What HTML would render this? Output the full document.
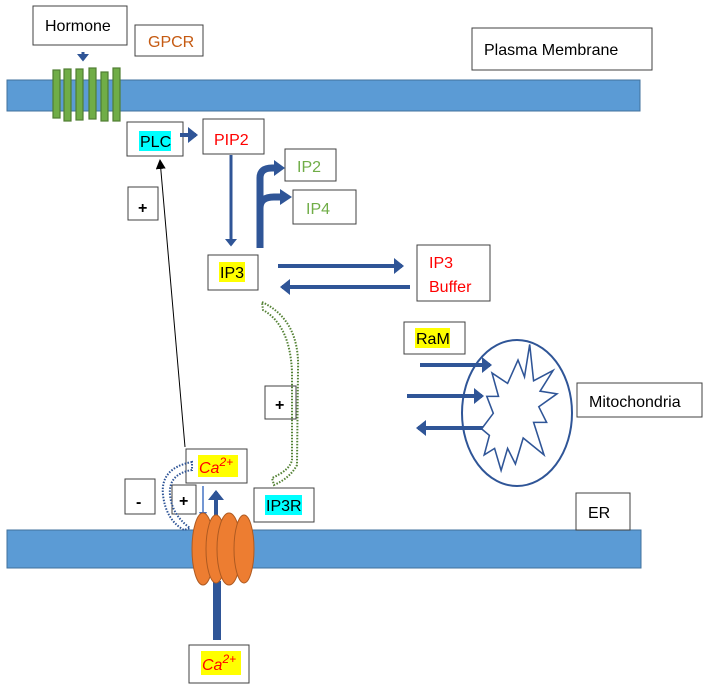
<!DOCTYPE html>
<html><head><meta charset="utf-8"><style>
html,body{margin:0;padding:0;background:#fff;}
svg{display:block;}
text{font-family:"Liberation Sans",sans-serif;font-size:16px;}
</style></head><body>
<svg width="708" height="690" viewBox="0 0 708 690" xmlns="http://www.w3.org/2000/svg">
<defs>
<marker id="ab" markerWidth="4" markerHeight="4" refX="2" refY="2" orient="auto" markerUnits="strokeWidth"><path d="M0,0 L2.5,2 L0,4 z" fill="#2f5597"/></marker>
<marker id="ak" markerWidth="10" markerHeight="10" refX="9" refY="5" orient="auto" markerUnits="userSpaceOnUse"><path d="M0,0 L10,5 L0,10 z" fill="#000"/></marker>
</defs>
<rect x="7" y="80" width="633" height="31" fill="#5b9bd5" stroke="#41719c" stroke-width="1"/>
<rect x="7" y="530" width="634" height="38" fill="#5b9bd5" stroke="#41719c" stroke-width="1"/>
<g fill="#70ad47" stroke="#507e32" stroke-width="1.2">
<rect x="53" y="70" width="7" height="48"/><rect x="64" y="69" width="7" height="52"/><rect x="76" y="69" width="7" height="51"/><rect x="89" y="68" width="7" height="51"/><rect x="101" y="72" width="7" height="49"/><rect x="113" y="68" width="7" height="53"/>
</g>
<line x1="83" y1="52" x2="83" y2="60" stroke="#2f5597" stroke-width="3" marker-end="url(#ab)"/>
<g fill="#fff" stroke="#404040" stroke-width="1">
<rect x="33" y="6" width="94" height="39"/>
<rect x="135" y="25" width="68" height="31"/>
<rect x="472" y="28" width="180" height="42"/>
<rect x="127" y="122" width="56" height="34"/>
<rect x="203" y="119" width="61" height="35"/>
<rect x="285" y="149" width="51" height="32"/>
<rect x="293" y="190" width="63" height="34"/>
<rect x="128" y="187" width="30" height="33"/>
<rect x="208" y="255" width="50" height="35"/>
<rect x="417" y="245" width="73" height="56"/>
<rect x="404" y="322" width="61" height="32"/>
<rect x="577" y="383" width="125" height="34"/>
<rect x="265" y="386" width="31" height="33"/>
<rect x="576" y="493" width="54" height="37"/>
<rect x="186" y="449" width="61" height="34"/>
<rect x="254" y="488" width="60" height="34"/>
<rect x="125" y="479" width="30" height="35"/>
<rect x="172" y="485" width="24" height="29"/>
<rect x="189" y="645" width="60" height="38"/>
</g>
<rect x="139" y="131" width="32" height="20" fill="#00ffff"/>
<rect x="219" y="262" width="26" height="20" fill="#ffff00"/>
<rect x="415" y="328" width="35" height="20" fill="#ffff00"/>
<rect x="265" y="495" width="37" height="20" fill="#00ffff"/>
<rect x="198" y="455" width="40" height="22" fill="#ffff00"/>
<rect x="201" y="651" width="40" height="24" fill="#ffff00"/>
<text x="45" y="31">Hormone</text>
<text x="148" y="47" fill="#c55a11">GPCR</text>
<text x="484" y="55">Plasma Membrane</text>
<text x="140" y="147">PLC</text>
<text x="214" y="145" fill="#ff0000">PIP2</text>
<text x="297" y="172" fill="#70ad47">IP2</text>
<text x="306" y="214" fill="#70ad47">IP4</text>
<text x="138" y="213" font-weight="bold">+</text>
<text x="220" y="278">IP3</text>
<text x="429" y="268" fill="#ff0000">IP3</text>
<text x="429" y="292" fill="#ff0000">Buffer</text>
<text x="416" y="344">RaM</text>
<text x="589" y="407">Mitochondria</text>
<text x="275" y="410" font-weight="bold">+</text>
<text x="588" y="518">ER</text>
<text x="266" y="511">IP3R</text>
<text x="136" y="507" font-weight="bold" font-size="18">-</text>
<text x="179" y="506" font-weight="bold">+</text>
<text x="199" y="473" fill="#ff0000" font-family="'Liberation Serif',serif" font-style="italic" font-size="18">Ca<tspan font-size="12" dy="-7">2+</tspan></text>
<text x="202" y="670" fill="#ff0000" font-family="'Liberation Serif',serif" font-style="italic" font-size="18">Ca<tspan font-size="12" dy="-7">2+</tspan></text>
<g stroke="#2f5597" stroke-width="4" fill="none">
<line x1="180" y1="135" x2="196" y2="135" marker-end="url(#ab)"/>
<line x1="231" y1="155" x2="231" y2="245" stroke-width="3" marker-end="url(#ab)"/>
<line x1="278" y1="266" x2="402" y2="266" marker-end="url(#ab)"/>
<line x1="410" y1="287" x2="282" y2="287" marker-end="url(#ab)"/>
<line x1="420" y1="365" x2="490" y2="365" marker-end="url(#ab)"/>
<line x1="407" y1="396" x2="482" y2="396" marker-end="url(#ab)"/>
<line x1="490" y1="428" x2="418" y2="428" marker-end="url(#ab)"/>
<line x1="216" y1="520" x2="216" y2="492" marker-end="url(#ab)"/>
<line x1="203" y1="486" x2="203" y2="513" stroke="#4472c4" stroke-width="1.5"/>
</g>
<path d="M199,512 L207,512 L203,520 z" fill="#4472c4"/>
<rect x="213" y="581" width="8" height="59" fill="#2f5597"/>
<path d="M260,248 L260,178 Q260,168 272,168 L276,168" stroke="#2f5597" stroke-width="7" fill="none"/>
<path d="M274,160 L285,168 L274,176 z" fill="#2f5597"/>
<path d="M260,248 L260,208 Q260,197 274,197 L281,197" stroke="#2f5597" stroke-width="7" fill="none"/>
<path d="M280,189 L292,197 L280,205 z" fill="#2f5597"/>
<line x1="185" y1="447" x2="160" y2="160" stroke="#000" stroke-width="1" marker-end="url(#ak)"/>
<ellipse cx="517" cy="413" rx="55" ry="73" fill="none" stroke="#2f5597" stroke-width="2"/>
<g transform="translate(518,412) scale(1.3) translate(-518,-412)">
<polygon points="518,372 523,385 527,360 530,388 545,380 535,396 548,398 534,408 540,420 530,420 538,445 522,432 516,452 510,440 505,457 500,440 492,445 496,430 490,425 499,413 494,400 503,400 498,382 510,390" fill="#fff" stroke="#2f5597" stroke-width="1.2"/>
</g>
<g fill="#ed7d31" stroke="#ae5a21" stroke-width="1">
<ellipse cx="203" cy="549" rx="11" ry="36"/>
<ellipse cx="216" cy="549" rx="10" ry="34"/>
<ellipse cx="229" cy="549" rx="12" ry="36"/>
<ellipse cx="244" cy="549" rx="10" ry="34"/>
</g>
<path d="M262,302 Q300,320 298,370 L297,465 Q290,478 274,485 L272,478 Q290,470 292,460 L292,372 Q290,325 263,310 z" fill="none" stroke="#548235" stroke-width="2" stroke-dasharray="1.5,1.5"/>
<path d="M192,462 Q160,468 163,495 Q166,520 184,530 L190,528 Q172,515 170,495 Q168,474 192,470 z" fill="none" stroke="#2f5597" stroke-width="2" stroke-dasharray="1.5,1.5"/>
</svg>
</body></html>
